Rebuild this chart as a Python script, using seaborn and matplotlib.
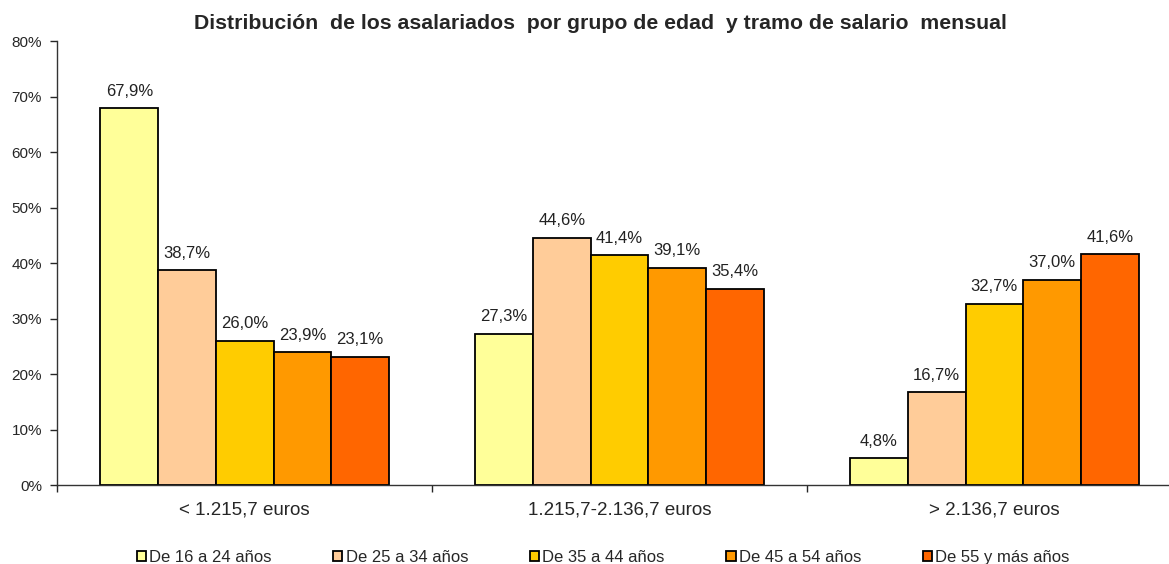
import matplotlib
matplotlib.use("Agg")
import matplotlib.pyplot as plt
import seaborn as sns
import pandas as pd

tramos = ['< 1.215,7 euros', '1.215,7-2.136,7 euros', '> 2.136,7 euros']
edades = ['De 16 a 24 años', 'De 25 a 34 años', 'De 35 a 44 años',
          'De 45 a 54 años', 'De 55 y más años']
valores = {
    'De 16 a 24 años': [67.9, 27.3, 4.8],
    'De 25 a 34 años': [38.7, 44.6, 16.7],
    'De 35 a 44 años': [26.0, 41.4, 32.7],
    'De 45 a 54 años': [23.9, 39.1, 37.0],
    'De 55 y más años': [23.1, 35.4, 41.6],
}
colores = ['#FFFF99', '#FFCC99', '#FFCC00', '#FF9900', '#FF6600']

filas = []
for e in edades:
    for t, v in zip(tramos, valores[e]):
        filas.append({'tramo': t, 'edad': e, 'pct': v})
df = pd.DataFrame(filas)

sns.set_style('white')
plt.rcParams['font.family'] = ['Liberation Sans', 'DejaVu Sans']

fig = plt.figure(figsize=(11.69, 5.64), dpi=100)
ax = fig.add_axes([0.049, 0.140, 0.962, 0.787])

sns.barplot(data=df, x='tramo', y='pct', hue='edad', order=tramos,
            hue_order=edades, palette=colores, width=0.77, gap=0,
            edgecolor='black', linewidth=1.3, saturation=1, ax=ax,
            legend=True)

for cont in ax.containers:
    etiquetas = [f'{b.get_height():.1f}%'.replace('.', ',') for b in cont]
    ax.bar_label(cont, labels=etiquetas, padding=7, fontsize=12, color='#222222')

ax.set_ylim(0, 80)
ax.set_xlim(-0.5, 2.5)
ax.set_yticks(range(0, 81, 10))
ax.set_yticklabels([f'{v}%' for v in range(0, 81, 10)], fontsize=11)
ax.set_xticks([0, 1, 2])
ax.set_xticklabels(tramos, fontsize=13.5)
ax.set_xticks([-0.5, 0.5, 1.5, 2.5], minor=True)
ax.tick_params(axis='x', which='major', length=0, pad=12)
ax.tick_params(axis='x', which='minor', length=5, width=1, direction='out', bottom=True)
ax.tick_params(axis='y', length=5, width=1, direction='out', left=True, pad=6)
ax.set_xlabel('')
ax.set_ylabel('')
for s in ['top', 'right']:
    ax.spines[s].set_visible(False)
for s in ['left', 'bottom']:
    ax.spines[s].set_color('#333333')
    ax.spines[s].set_linewidth(1)

h, l = ax.get_legend_handles_labels()
ax.get_legend().remove()
fig.legend(h, l, loc='lower center', bbox_to_anchor=(0.516, -0.028), ncol=5,
           frameon=False, fontsize=12, handlelength=0.55, handleheight=0.55,
           handletextpad=0.2, columnspacing=3.7)

fig.suptitle('Distribución  de los asalariados  por grupo de edad  y tramo de salario  mensual',
             fontsize=15.3, fontweight='bold', x=0.514, y=0.975)

fig.savefig('out.png', dpi=100)
